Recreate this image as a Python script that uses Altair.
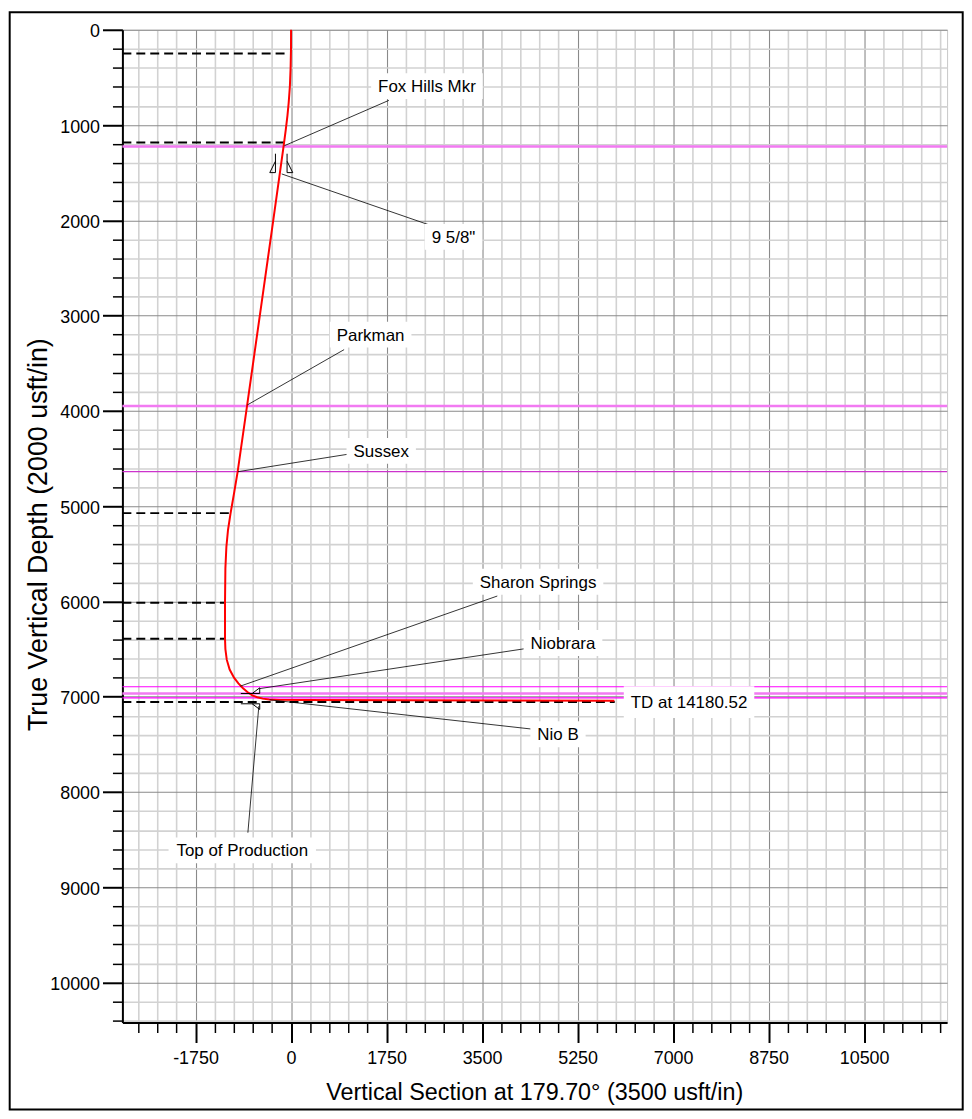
import altair as alt
import pandas as pd

X_MIN, X_MAX = -3090, 12020
Y_MIN, Y_MAX = 0, 10420
W, H = 829, 998

# ---- well path (vertical section, TVD) ----
path_vs = [0, -1, -8, -22, -44, -66, -97, -135, -326, -536, -805, -978,
           -1040, -1110, -1155, -1185, -1203, -1210, -1210,
           -1203, -1178, -1125, -1045, -965, -880, -800, -710, -620, -520,
           -400, -200, 200, 2000, 4000, 5925]
path_tvd = [0, 200, 400, 600, 770, 900, 1050, 1217, 2000, 2853, 3942, 4638,
            4850, 5080, 5250, 5428, 5650, 6013, 6392,
            6500, 6611, 6715, 6800, 6860, 6910, 6950, 6985, 7005, 7020,
            7030, 7033, 7035, 7037, 7039, 7041]

# ---- dashed horizontal reference lines ----
dash_tvd = [250, 1183, 5073, 6013, 6392, 7056]
dash_end = [-91, -122, -1137, -1210, -1210, 5930]

# ---- formation tops ----
form_names = ["Fox Hills Mkr", "Parkman", "Sussex", "Sharon Springs", "Niobrara", "Nio B"]
form_tvd = [1224, 3949, 4638, 6895, 6966, 7012]
form_kind = ["thick", "thick", "dark", "thin", "thick", "thin"]

# ---- annotation labels ----
ann_text = ["Fox Hills Mkr", '9 5/8"', "Parkman", "Sussex", "Sharon Springs",
            "Niobrara", "Nio B", "Top of Production", "TD at 14180.52"]
ann_x = [2490, 2977, 1458, 1652, 4526, 4982, 4891, -894, 7292]
ann_y = [591, 2174, 3200, 4419, 5793, 6436, 7394, 8612, 7056]

# ---- leader lines ----
lead_x1 = [-122, -171, -802, -973, -930, -578, -395, -590]
lead_y1 = [1217, 1513, 3938, 4638, 6889, 6915, 7032, 7098]
lead_x2 = [1792, 2521, 972, 1063, 3779, 4284, 4435, -791]
lead_y2 = [741, 2046, 3357, 4453, 5943, 6496, 7341, 8427]

# ---- casing shoe symbols ----
sym_x = [-286, -73, -747, -747]
sym_y = [1400, 1400, 6966, 7074]
sym_kind = ["left", "right", "up", "down"]

SHAPES = {
    "left": "M0,-1 L0,1 L-0.6,1 L0,-0.2",
    "right": "M0,-1 L0,1 L0.6,1 L0,-0.2",
    "up": "M-1,0 L1,0 L1,-0.6 L0.2,0",
    "down": "M-1,0 L1,0 L1,0.6 L0.2,0",
}

CW = {' ': 278, 'i': 222, 'l': 222, 'f': 278, 't': 278, 'r': 333, '.': 278, '/': 278,
      '"': 355, '(': 333, ')': 333, 'I': 278, 'M': 833, 'm': 833, 'w': 722, 'D': 722,
      'H': 722, 'N': 722, 'B': 667, 'P': 667, 'S': 667, 'T': 611, 'F': 611, 'k': 500,
      's': 500, 'c': 500, 'x': 500}


def text_w(s, fs=17):
    return sum(CW.get(c, 556) for c in s) / 1000 * fs


XU = (X_MAX - X_MIN) / W
YU = (Y_MAX - Y_MIN) / H

path_df = pd.DataFrame({"vs": path_vs, "tvd": path_tvd, "i": range(len(path_vs))})
dash_df = pd.DataFrame({"tvd": dash_tvd, "x1": [X_MIN] * len(dash_tvd), "x2": dash_end})
form_df = pd.DataFrame({"name": form_names, "tvd": form_tvd, "kind": form_kind,
                        "x1": [X_MIN] * len(form_tvd), "x2": [X_MAX] * len(form_tvd)})
ann_df = pd.DataFrame({"text": ann_text, "x": ann_x, "y": ann_y})
ann_df["hw"] = [(text_w(t) / 2 + 7) * XU for t in ann_text]
ann_df["hh"] = [(16 if t.startswith("TD") else 13) * YU for t in ann_text]
ann_df["bx1"] = ann_df["x"] - ann_df["hw"]
ann_df["bx2"] = ann_df["x"] + ann_df["hw"]
ann_df["by1"] = ann_df["y"] - ann_df["hh"]
ann_df["by2"] = ann_df["y"] + ann_df["hh"]
lead_df = pd.DataFrame({"x1": lead_x1, "y1": lead_y1, "x2": lead_x2, "y2": lead_y2})
sym_df = pd.DataFrame({"x": sym_x, "y": sym_y, "shape": [SHAPES[k] for k in sym_kind]})

x_ticks = list(range(-2800, 12000, 350))
y_ticks = list(range(0, 10401, 200))

FONT = "Liberation Sans"
xmaj = "datum.value % 1750 === 0"
ymaj = "datum.value % 1000 === 0"

x_axis = alt.Axis(
    orient="bottom", values=x_ticks,
    title="Vertical Section at 179.70° (3500 usft/in)",
    titleFont=FONT, titleFontSize=23.5, titleFontWeight="normal", titleColor="black",
    titleX=414, titleY=77, titleBaseline="alphabetic", titleAlign="center",
    labelExpr=f"{xmaj} ? '' + datum.value : ''",
    labelFont=FONT, labelFontSize=18, labelFontWeight="normal", labelColor="black",
    labelBaseline="alphabetic", labelPadding=21, labelOverlap=False, labelFlush=False,
    tickColor="black",
    tickSize={"condition": {"test": xmaj, "value": 20}, "value": 10},
    tickWidth={"condition": {"test": xmaj, "value": 2}, "value": 1.5},
    domainColor="black", domainWidth=2,
    grid=True,
    gridColor={"condition": {"test": xmaj, "value": "#8a8a8a"}, "value": "#d2d2d2"},
    gridWidth={"condition": {"test": xmaj, "value": 1.1}, "value": 1.6},
)

y_axis = alt.Axis(
    orient="left", values=y_ticks,
    title="True Vertical Depth (2000 usft/in)",
    titleFont=FONT, titleFontSize=27, titleFontWeight="normal", titleColor="black",
    titleX=-76, titleY=507, titleBaseline="alphabetic", titleAlign="center",
    labelExpr=f"{ymaj} ? '' + datum.value : ''",
    labelFont=FONT, labelFontSize=18, labelFontWeight="normal", labelColor="black",
    labelPadding=3, labelOffset=2, labelOverlap=False, labelFlush=False,
    tickColor="black",
    tickSize={"condition": {"test": ymaj, "value": 20}, "value": 10},
    tickWidth={"condition": {"test": ymaj, "value": 2}, "value": 1.5},
    domainColor="black", domainWidth=2,
    grid=True,
    gridColor={"condition": {"test": ymaj, "value": "#8a8a8a"}, "value": "#d2d2d2"},
    gridWidth={"condition": {"test": ymaj, "value": 1.1}, "value": 1.6},
)

xs = alt.Scale(domain=[X_MIN, X_MAX], nice=False, zero=False)
ys = alt.Scale(domain=[Y_MIN, Y_MAX], nice=False, zero=False, reverse=True)


def X(f):
    return alt.X(f, type="quantitative", scale=xs, axis=x_axis)


def Y(f):
    return alt.Y(f, type="quantitative", scale=ys, axis=y_axis)


form_base = alt.Chart(form_df)
form_thick = form_base.transform_filter("datum.kind === 'thick'").mark_rule(
    color="#f27af2", strokeWidth=2.5).encode(x=X("x1"), x2="x2", y=Y("tvd"))
form_dark = form_base.transform_filter("datum.kind === 'dark'").mark_rule(
    color="#cc33cc", strokeWidth=1.2).encode(x=X("x1"), x2="x2", y=Y("tvd"))
form_thin = form_base.transform_filter("datum.kind === 'thin'").mark_rule(
    color="#ff00ff", strokeWidth=1.2).encode(x=X("x1"), x2="x2", y=Y("tvd"))

dashes = alt.Chart(dash_df).mark_rule(
    color="black", strokeWidth=2, strokeDash=[9, 5]).encode(
    x=X("x1"), x2="x2", y=Y("tvd"))

path = alt.Chart(path_df).mark_line(color="#ff0000", strokeWidth=2).encode(
    x=X("vs"), y=Y("tvd"), order="i:Q")

leaders = alt.Chart(lead_df).mark_rule(color="black", strokeWidth=0.8).encode(
    x=X("x1"), y=Y("y1"), x2="x2", y2="y2")

symbols = alt.Chart(sym_df).mark_point(
    filled=False, color="black", strokeWidth=1, size=361, opacity=1).encode(
    x=X("x"), y=Y("y"), shape=alt.Shape("shape:N", scale=None))

boxes = alt.Chart(ann_df).mark_rect(color="white").encode(
    x=X("bx1"), x2="bx2", y=Y("by1"), y2="by2")

labels = alt.Chart(ann_df).mark_text(
    font=FONT, fontSize=17, color="black", align="center", baseline="middle", dy=1).encode(
    x=X("x"), y=Y("y"), text="text:N")

border = alt.Chart(pd.DataFrame({"k": [0]})).mark_rect(
    filled=False, stroke="black", strokeWidth=2, clip=False).encode(
    x=alt.value(-113.3), x2=alt.value(844.7), y=alt.value(-17.7), y2=alt.value(1085.3))

chart = alt.layer(
    form_thick, form_dark, form_thin, dashes, path, leaders, symbols,
    boxes, labels, border
).properties(width=W, height=H, padding=0, background="white").configure_view(
    stroke="#c8c8c8")

chart.save("out.html", embed_options={"renderer": "svg", "actions": False})
